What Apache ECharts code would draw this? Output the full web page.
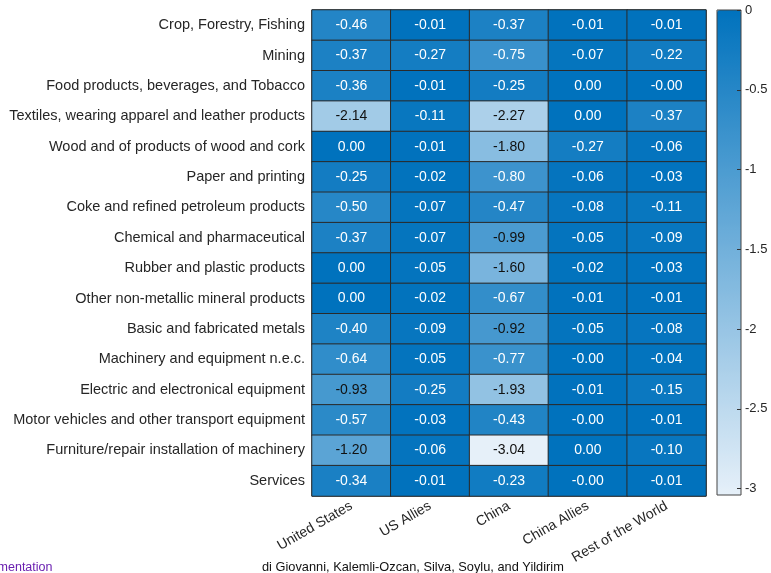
<!DOCTYPE html>
<html>
<head>
<meta charset="utf-8">
<script src="https://cdn.jsdelivr.net/npm/echarts@6/dist/echarts.min.js"></script>
<style>
  html, body { margin: 0; padding: 0; background: #fff; }
  #chart { width: 771px; height: 573px; }
</style>
</head>
<body>
<div id="chart"></div>
<script>
// Sectors (rows, top to bottom) and regions (columns, left to right)
const sectors = [
  'Crop, Forestry, Fishing',
  'Mining',
  'Food products, beverages, and Tobacco',
  'Textiles, wearing apparel and leather products',
  'Wood and of products of wood and cork',
  'Paper and printing',
  'Coke and refined petroleum products',
  'Chemical and pharmaceutical',
  'Rubber and plastic products',
  'Other non-metallic mineral products',
  'Basic and fabricated metals',
  'Machinery and equipment n.e.c.',
  'Electric and electronical equipment',
  'Motor vehicles and other transport equipment',
  'Furniture/repair installation of machinery',
  'Services'
];
const regions = ['United States', 'US Allies', 'China', 'China Allies', 'Rest of the World'];

// Values per region, one entry per sector (tiny negatives print as -0.00)
const unitedStates = [-0.46, -0.37, -0.36, -2.14, 0.00, -0.25, -0.50, -0.37, 0.00, 0.00, -0.40, -0.64, -0.93, -0.57, -1.20, -0.34];
const usAllies     = [-0.01, -0.27, -0.01, -0.11, -0.01, -0.02, -0.07, -0.07, -0.05, -0.02, -0.09, -0.05, -0.25, -0.03, -0.06, -0.01];
const china        = [-0.37, -0.75, -0.25, -2.27, -1.80, -0.80, -0.47, -0.99, -1.60, -0.67, -0.92, -0.77, -1.93, -0.43, -3.04, -0.23];
const chinaAllies  = [-0.01, -0.07, 0.00, 0.00, -0.27, -0.06, -0.08, -0.05, -0.02, -0.01, -0.05, -0.004, -0.01, -0.004, 0.00, -0.004];
const restOfWorld  = [-0.01, -0.22, -0.004, -0.37, -0.06, -0.03, -0.11, -0.09, -0.03, -0.01, -0.08, -0.04, -0.15, -0.01, -0.10, -0.01];

// Colour bar range and ticks
const colorMin = -3.04;
const colorMax = 0;
const colorTicks = [0, -0.5, -1, -1.5, -2, -2.5, -3];

const columns = [unitedStates, usAllies, china, chinaAllies, restOfWorld];
const cells = [];
columns.forEach((col, xi) => {
  col.forEach((v, yi) => cells.push({
    value: [xi, yi, v],
    // dark text on light cells, white text on dark ones
    label: { color: v < -0.9 ? '#111' : '#ffffff' }
  }));
});

const textColor = '#262626';
const font = 'Liberation Sans, Arial, sans-serif';

const chart = echarts.init(document.getElementById('chart'));
chart.setOption({
  animation: false,
  backgroundColor: '#ffffff',
  textStyle: { fontFamily: font },
  grid: [
    { left: 312, top: 10, width: 394, height: 486, show: true, borderColor: '#333', borderWidth: 1, backgroundColor: 'transparent' },
    // colour bar frame, kept above the gradient drawn by visualMap
    { left: 717, top: 10, width: 24, height: 485, show: true, borderColor: '#444', borderWidth: 1, backgroundColor: 'transparent', z: 10 }
  ],
  xAxis: [
    {
      type: 'category', gridIndex: 0, data: regions, position: 'bottom',
      axisLine: { show: false }, axisTick: { show: false }, splitLine: { show: false },
      axisLabel: { rotate: 30, color: textColor, fontSize: 14, fontFamily: font, margin: 9, interval: 0 }
    },
    { type: 'value', gridIndex: 1, show: false, min: 0, max: 1 }
  ],
  yAxis: [
    {
      type: 'category', gridIndex: 0, data: sectors, inverse: true,
      axisLine: { show: false }, axisTick: { show: false }, splitLine: { show: false },
      axisLabel: { color: textColor, fontSize: 14.5, fontFamily: font, margin: 7, interval: 0 }
    },
    {
      type: 'value', gridIndex: 1, min: colorMin, max: colorMax, position: 'right', z: 10,
      axisLine: { show: false, onZero: false }, splitLine: { show: false },
      axisTick: { show: true, inside: true, length: 4, lineStyle: { color: '#333', width: 1 }, customValues: colorTicks },
      axisLabel: { color: textColor, fontSize: 13, fontFamily: font, margin: 4, customValues: colorTicks,
        formatter: v => String(v) }
    }
  ],
  visualMap: {
    type: 'continuous',
    min: colorMin, max: colorMax,
    seriesIndex: 0,
    calculable: false,
    orient: 'vertical',
    left: 717, top: 10,
    itemWidth: 24, itemHeight: 485,
    padding: 0,
    text: null,
    showLabel: false,
    z: 2,
    inRange: { color: ['#e6f0f9', '#0072bd'] }
  },
  series: [{
    type: 'heatmap',
    xAxisIndex: 0, yAxisIndex: 0,
    data: cells,
    itemStyle: { borderColor: '#2a2a2a', borderWidth: 1 },
    label: {
      show: true,
      fontSize: 14,
      fontFamily: font,
      formatter: p => p.value[2].toFixed(2)
    },
    emphasis: { disabled: true }
  }],
  graphic: [
    { type: 'text', left: 262, top: 561, style: { text: 'di Giovanni, Kalemli-Ozcan, Silva, Soylu, and Yildirim', fill: '#111', font: '12.8px ' + font } },
    { type: 'text', left: -33, top: 561, style: { text: 'Implementation', fill: '#6a1fb0', font: '12.5px ' + font } }
  ]
});
</script>
</body>
</html>
